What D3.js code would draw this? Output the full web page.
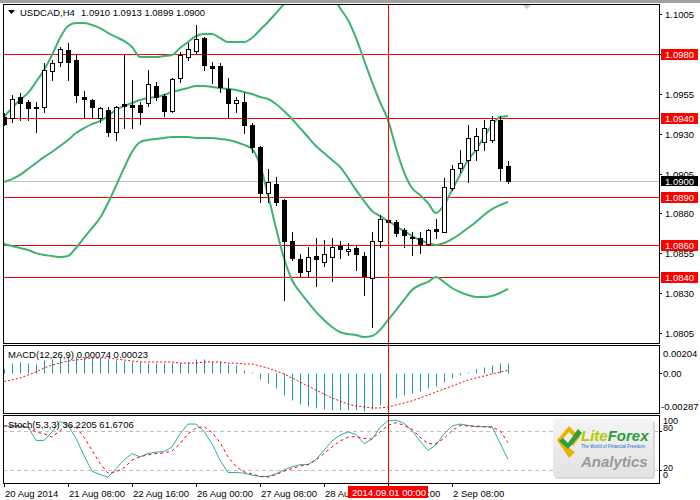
<!DOCTYPE html>
<html><head><meta charset="utf-8">
<script src="https://cdn.jsdelivr.net/npm/d3@7"></script>
<style>body{margin:0;background:#fff}svg{display:block}text{font-family:"Liberation Sans",Arial,sans-serif}</style>
</head><body><svg id="c" width="700" height="500"></svg>
<script>
const symbol = "USDCAD,H4";
const headerValues = "1.0910 1.0913 1.0899 1.0900";
const opens  = [1.09404,1.09398,1.09530,1.09498,1.09467,1.09467,1.09693,1.09749,1.09824,1.09762,1.09530,1.09511,1.09398,1.09448,1.09310,1.09486,1.09479,1.09479,1.09492,1.09599,1.09536,1.09442,1.09649,1.09780,1.09818,1.09900,1.09724,1.09724,1.09580,1.09492,1.09498,1.09354,1.09216,1.08928,1.08984,1.08884,1.08627,1.08514,1.08439,1.08533,1.08495,1.08526,1.08596,1.08564,1.08583,1.08533,1.08395,1.08627,1.08758,1.08746,1.08696,1.08652,1.08646,1.08608,1.08702,1.08683,1.08959,1.09084,1.09135,1.09197,1.09247,1.09260,1.09385,1.0910];
const highs  = [1.09430,1.09542,1.09555,1.09511,1.09498,1.09743,1.09762,1.09843,1.09868,1.09793,1.09567,1.09517,1.09467,1.09467,1.09473,1.09793,1.09636,1.09498,1.09699,1.09624,1.09548,1.09649,1.09812,1.09868,1.09981,1.09906,1.09749,1.09743,1.09649,1.09530,1.09555,1.09367,1.09222,1.09078,1.09028,1.08890,1.08683,1.08545,1.08589,1.08646,1.08633,1.08646,1.08627,1.08614,1.08602,1.08558,1.08683,1.08790,1.08790,1.08758,1.08708,1.08683,1.08683,1.08702,1.08765,1.09022,1.09103,1.09197,1.09354,1.09335,1.09385,1.09410,1.09410,1.0913];
const lows   = [1.09354,1.09373,1.09385,1.09385,1.09310,1.09436,1.09636,1.09724,1.09636,1.09498,1.09398,1.09398,1.09373,1.09285,1.09260,1.09335,1.09335,1.09360,1.09473,1.09511,1.09410,1.09436,1.09624,1.09762,1.09805,1.09699,1.09617,1.09561,1.09398,1.09436,1.09304,1.09185,1.08871,1.08871,1.08852,1.08257,1.08508,1.08407,1.08407,1.08344,1.08470,1.08376,1.08520,1.08539,1.08445,1.08288,1.08087,1.08589,1.08708,1.08658,1.08589,1.08539,1.08551,1.08602,1.08646,1.08683,1.08946,1.09059,1.08997,1.09135,1.09197,1.09247,1.09009,1.0899];
const closes = [1.09360,1.09517,1.09492,1.09461,1.09461,1.09699,1.09743,1.09831,1.09749,1.09542,1.09517,1.09467,1.09461,1.09310,1.09467,1.09473,1.09467,1.09436,1.09611,1.09530,1.09442,1.09643,1.09793,1.09831,1.09893,1.09730,1.09711,1.09592,1.09492,1.09511,1.09354,1.09216,1.08928,1.08997,1.08871,1.08627,1.08520,1.08432,1.08526,1.08514,1.08545,1.08589,1.08577,1.08577,1.08545,1.08407,1.08627,1.08765,1.08746,1.08677,1.08664,1.08646,1.08608,1.08696,1.08690,1.08965,1.09078,1.09116,1.09273,1.09285,1.09335,1.09385,1.09084,1.0900];
const bbUpper  = [1.09404,1.09461,1.09511,1.09555,1.09624,1.09699,1.09793,1.09900,1.09975,1.09994,1.09994,1.09981,1.09962,1.09931,1.09906,1.09881,1.09843,1.09780,1.09780,1.09780,1.09787,1.09793,1.09837,1.09874,1.09912,1.09925,1.09925,1.09900,1.09874,1.09874,1.09874,1.09900,1.09950,1.10000,1.10056,1.10113,1.10175,1.10226,1.10263,1.10276,1.10251,1.10175,1.10088,1.10012,1.09900,1.09762,1.09624,1.09498,1.09385,1.09210,1.09059,1.08959,1.08915,1.08865,1.08802,1.08852,1.08947,1.09041,1.09135,1.09197,1.09279,1.09354,1.09404,1.09410];
const bbMiddle = [1.08997,1.09015,1.09041,1.09078,1.09116,1.09153,1.09185,1.09222,1.09260,1.09304,1.09335,1.09360,1.09379,1.09410,1.09448,1.09473,1.09492,1.09511,1.09523,1.09530,1.09542,1.09561,1.09574,1.09586,1.09599,1.09599,1.09592,1.09586,1.09580,1.09574,1.09561,1.09548,1.09530,1.09517,1.09486,1.09442,1.09392,1.09335,1.09279,1.09222,1.09178,1.09135,1.09091,1.09022,1.08947,1.08878,1.08815,1.08783,1.08752,1.08721,1.08689,1.08658,1.08633,1.08614,1.08602,1.08614,1.08639,1.08671,1.08708,1.08746,1.08790,1.08827,1.08852,1.08871];
const bbLower  = [1.08608,1.08595,1.08583,1.08570,1.08551,1.08539,1.08533,1.08526,1.08533,1.08583,1.08646,1.08708,1.08771,1.08865,1.08972,1.09084,1.09185,1.09247,1.09260,1.09266,1.09273,1.09279,1.09279,1.09279,1.09273,1.09273,1.09273,1.09266,1.09260,1.09247,1.09229,1.09204,1.09103,1.08915,1.08708,1.08520,1.08382,1.08307,1.08244,1.08182,1.08131,1.08088,1.08056,1.08044,1.08037,1.08025,1.08031,1.08069,1.08131,1.08194,1.08257,1.08320,1.08351,1.08370,1.08401,1.08370,1.08332,1.08307,1.08288,1.08276,1.08276,1.08282,1.08301,1.08326];
const macdMain   = [0.0003,0.00074,0.00082,0.00074,0.00067,0.00097,0.00104,0.00119,0.00126,0.00126,0.00119,0.00112,0.00112,0.00104,0.00097,0.00089,0.00082,0.00082,0.00074,0.00074,0.00074,0.00074,0.00074,0.00082,0.00104,0.00104,0.00082,0.00082,0.00067,0.0006,0.00022,0.00007,-0.00045,-0.00074,-0.00112,-0.00164,-0.00201,-0.00231,-0.00246,-0.0026,-0.00268,-0.00275,-0.00275,-0.00275,-0.00275,-0.00283,-0.00268,-0.00238,-0.00208,-0.00186,-0.00164,-0.00149,-0.00134,-0.00112,-0.00097,-0.00067,-0.00037,-0.00015,0.00007,0.0003,0.00045,0.0006,0.00074,0.00074];
const macdSignal = [-0.0006,-0.00049,-0.00034,-0.00012,0.0001,0.0004,0.00062,0.00077,0.00092,0.001,0.00107,0.00115,0.00115,0.00115,0.00107,0.001,0.00092,0.00085,0.00085,0.00085,0.00085,0.00085,0.00077,0.00077,0.00077,0.00085,0.00085,0.00085,0.00077,0.00077,0.0007,0.0007,0.00055,0.0004,0.00018,-0.00004,-0.00034,-0.00064,-0.00094,-0.00124,-0.00153,-0.00183,-0.00205,-0.00228,-0.00243,-0.0025,-0.00257,-0.00257,-0.0025,-0.00235,-0.0022,-0.00205,-0.00183,-0.00161,-0.00138,-0.00116,-0.00094,-0.00071,-0.00049,-0.00034,-0.00019,-0.00004,0.0001,0.00023];
const stochMain   = [87,87,86,85,65,65,78,94,88,68,42,18,13,9,22,35,45,40,45,47,48,55,75,90,90,79,60,35,16,16,15,12,10,10,14,20,25,28,28,36,50,64,73,78,74,60,67,85,95,96,91,80,64,50,58,75,87,90,88,86,86,86,61,36.22];
const stochSignal = [87,87,88,85,78,75,70,80,88,85,70,50,30,15,17,23,35,40,43,45,46,49,60,75,84,86,77,62,40,25,17,14,10,9,13,18,22,26,28,35,45,55,64,70,71,68,67,78,88,92,88,82,70,60,60,68,80,88,87,87,86,85,80,61.67];
const priceTicks = [1.1005,1.0980,1.0955,1.0930,1.0905,1.0880,1.0855,1.0830,1.0805];
const levelLines = [1.0980,1.0940,1.0890,1.0860,1.0840];
const bidPrice = 1.0900;
const timeTickBars = [0,8,16,24,32,40,48,56];
const timeTickLabels = ["20 Aug 2014","21 Aug 08:00","22 Aug 16:00","26 Aug 00:00","27 Aug 08:00","28 Aug 16:00","1 Sep 00:00","2 Sep 08:00"];
const markerBar = 48, markerLabel = "2014.09.01 00:00";
const macdTicks = [0.00204,0,-0.00287];
const stochLevels = [80,20];

const svg = d3.select("#c");
const L = 3, R = 659;
const main = {t:4,b:343}, mac = {t:345,b:413}, sto = {t:415,b:483};
const n = closes.length;
const x = d3.scaleLinear().domain([0,n-1]).range([4,508]);
const y = d3.scaleLinear().domain([1.0805,1.1005]).range([333,14]);
const ym = d3.scaleLinear().domain([-0.00287,0.00204]).range([412,346]);
const ys = d3.scaleLinear().domain([0,100]).range([483,417.5]);
const F = "Liberation Sans, Arial, sans-serif";

svg.append("rect").attr("x",0).attr("y",0).attr("width",700).attr("height",3).attr("fill","#a0a0a0");

const defs = svg.append("defs");
defs.append("clipPath").attr("id","cm").append("rect").attr("x",L).attr("y",main.t).attr("width",R-L).attr("height",main.b-main.t);
const tc = defs.append("clipPath").attr("id","tc");
tc.append("rect").attr("x",0).attr("y",484).attr("width",348).attr("height",16);
tc.append("rect").attr("x",428).attr("y",484).attr("width",272).attr("height",16);

const g = svg.append("g").attr("clip-path","url(#cm)");
g.selectAll(".lv").data(levelLines).join("line")
  .attr("x1",L).attr("x2",R).attr("y1",d=>Math.round(y(d))+0.5).attr("y2",d=>Math.round(y(d))+0.5)
  .attr("stroke","#ff0000").attr("stroke-width",1);
g.append("line").attr("x1",L).attr("x2",R).attr("y1",Math.round(y(bidPrice))+0.5).attr("y2",Math.round(y(bidPrice))+0.5).attr("stroke","#c0c0c0");

const line = arr => d3.line().x((d,i)=>x(i)).y(d=>y(d)).curve(d3.curveMonotoneX)(arr);
[bbUpper,bbMiddle,bbLower].forEach(a=>g.append("path").attr("d",line(a)).attr("fill","none").attr("stroke","#3cb371").attr("stroke-width",2));

const cg = g.append("g");
d3.range(n).forEach(i=>{
  const cx = Math.round(x(i));
  cg.append("line").attr("x1",cx+0.5).attr("x2",cx+0.5).attr("y1",Math.round(y(highs[i]))).attr("y2",Math.round(y(lows[i]))+1).attr("stroke","#000");
  const t = Math.round(y(Math.max(opens[i],closes[i]))), b = Math.round(y(Math.min(opens[i],closes[i])));
  cg.append("rect").attr("x",cx-1.5).attr("y",t+0.5).attr("width",4).attr("height",Math.max(b-t,0.5))
    .attr("fill",closes[i]>=opens[i]?"#fff":"#000").attr("stroke","#000").attr("stroke-width",1);
});

const mg = svg.append("g");
mg.selectAll("line.h").data(macdMain).join("line")
  .attr("x1",(d,i)=>Math.round(x(i))+0.5).attr("x2",(d,i)=>Math.round(x(i))+0.5)
  .attr("y1",ym(0)).attr("y2",d=>ym(d)).attr("stroke","#1a9c9c").attr("stroke-width",1);
mg.append("path").attr("d",d3.line().x((d,i)=>x(i)).y(d=>ym(d))(macdSignal)).attr("fill","none").attr("stroke","#ff0000").attr("stroke-dasharray","2,2");

const sg = svg.append("g");
sg.selectAll("line.lv").data(stochLevels).join("line").attr("x1",L).attr("x2",R)
  .attr("y1",d=>Math.round(ys(d))+0.5).attr("y2",d=>Math.round(ys(d))+0.5).attr("stroke","#c0c0c0").attr("stroke-dasharray","4,3");
sg.append("path").attr("d",d3.line().x((d,i)=>x(i)).y(d=>ys(d))(stochMain)).attr("fill","none").attr("stroke","#20b2aa");
sg.append("path").attr("d",d3.line().x((d,i)=>x(i)).y(d=>ys(d))(stochSignal)).attr("fill","none").attr("stroke","#ff0000").attr("stroke-dasharray","3,3");

const lg = svg.append("g");
defs.append("linearGradient").attr("id","lgG").attr("x1",0).attr("x2",0).attr("y1",0).attr("y2",1)
  .selectAll("stop").data([["0%","#f4f4f4"],["100%","#e2e2e2"]]).join("stop").attr("offset",d=>d[0]).attr("stop-color",d=>d[1]);
lg.append("rect").attr("x",555).attr("y",421).attr("width",100).attr("height",58).attr("rx",3).attr("fill","#d8d8d8");
lg.append("rect").attr("x",553).attr("y",419).attr("width",100).attr("height",58).attr("rx",3).attr("fill","url(#lgG)");
lg.append("path").attr("d","M557,440 L569,426 L580,437 L573,446 L569,442 L574,437 L569,432 L562,440 L569,448 L575,452 L569,458 Z").attr("fill","#e8b400");
lg.append("path").attr("d","M563,438 L568,443 L578,429 L582,433 L568,449 L559,441 Z").attr("fill","#2e9e3a");
lg.append("text").attr("x",581).attr("y",441).attr("font-size",15).attr("font-weight","bold").attr("font-style","italic")
  .html('<tspan fill="#b4c800">Lite</tspan><tspan fill="#2e9e3a">Forex</tspan>');
lg.append("text").attr("x",581).attr("y",448).attr("font-size",4.5).attr("fill","#1a6fc0").text("The World of Financial Freedom");
lg.append("text").attr("x",581).attr("y",467).attr("font-size",15).attr("font-weight","bold").attr("font-style","italic").attr("fill","#999").text("Analytics");

const mx = Math.round(x(markerBar))+0.5;
svg.append("line").attr("x1",mx).attr("x2",mx).attr("y1",main.t).attr("y2",487).attr("stroke","#ff0000");

[main,mac,sto].forEach(p=>svg.append("rect").attr("x",L+0.5).attr("y",p.t+0.5).attr("width",R-L).attr("height",p.b-p.t).attr("fill","none").attr("stroke","#000"));

const ax = svg.append("g").attr("font-family",F).attr("font-size",9.5);
priceTicks.forEach(p=>{
  const yy = Math.round(y(p));
  ax.append("line").attr("x1",R).attr("x2",R+3).attr("y1",yy+0.5).attr("y2",yy+0.5).attr("stroke","#000");
  if (!levelLines.includes(p)) ax.append("text").attr("x",665).attr("y",yy+3.5).attr("fill","#000").text(p.toFixed(4));
});
levelLines.forEach(p=>{
  const yy = Math.round(y(p));
  ax.append("rect").attr("x",661).attr("y",yy-5).attr("width",37).attr("height",11).attr("fill","#ff0000");
  ax.append("text").attr("x",665).attr("y",yy+3.5).attr("fill","#fff").text(p.toFixed(4));
});
{
  const yy = Math.round(y(bidPrice));
  ax.append("rect").attr("x",661).attr("y",yy-5).attr("width",37).attr("height",10).attr("fill","#000");
  ax.append("text").attr("x",665).attr("y",yy+3.5).attr("fill","#fff").text(bidPrice.toFixed(4));
}
const macdLabelY = [353,373,406];
macdTicks.forEach((v,k)=>{
  ax.append("text").attr("x",k==2?661:663).attr("y",macdLabelY[k]+3.5).text(v===0?"0.00":v.toFixed(5));
});
ax.append("line").attr("x1",R).attr("x2",R+3).attr("y1",Math.round(ym(0))+0.5).attr("y2",Math.round(ym(0))+0.5).attr("stroke","#000");
[["100",420.5],["80",427],["20",467.5],["0",474.5]].forEach(d=>ax.append("text").attr("x",663).attr("y",d[1]+3.5).attr("font-size",9).text(d[0]));
stochLevels.forEach(v=>ax.append("line").attr("x1",R).attr("x2",R+3).attr("y1",Math.round(ys(v))+0.5).attr("y2",Math.round(ys(v))+0.5).attr("stroke","#000"));

const tg = ax.append("g").attr("clip-path","url(#tc)");
timeTickBars.forEach((b,k)=>{
  const tx = Math.round(x(b))+0.5;
  ax.append("line").attr("x1",tx).attr("x2",tx).attr("y1",sto.b).attr("y2",sto.b+4).attr("stroke","#000");
  tg.append("text").attr("x",tx+0.5).attr("y",496.5).text(timeTickLabels[k]);
});
ax.append("rect").attr("x",348).attr("y",486).attr("width",80).attr("height",12).attr("fill","#ff0000");
ax.append("text").attr("x",352).attr("y",496).attr("fill","#fff").text(markerLabel);

svg.append("path").attr("d","M8,10 L15,10 L11.5,14 Z").attr("fill","#000");
svg.append("text").attr("x",20).attr("y",16).attr("font-size",9.5).text(symbol);
svg.append("text").attr("x",81).attr("y",16).attr("font-size",9.5).text(headerValues);
svg.append("text").attr("x",8).attr("y",358).attr("font-size",9.5).text("MACD(12,26,9) 0.00074 0.00023");
svg.append("text").attr("x",8).attr("y",428).attr("font-size",9.5).text("Stoch(5,3,3) 36.2205 61.6706");
svg.append("path").attr("d","M523,5 L531,5 L527,9 Z").attr("fill","#c8c8c8");
</script></body></html>
